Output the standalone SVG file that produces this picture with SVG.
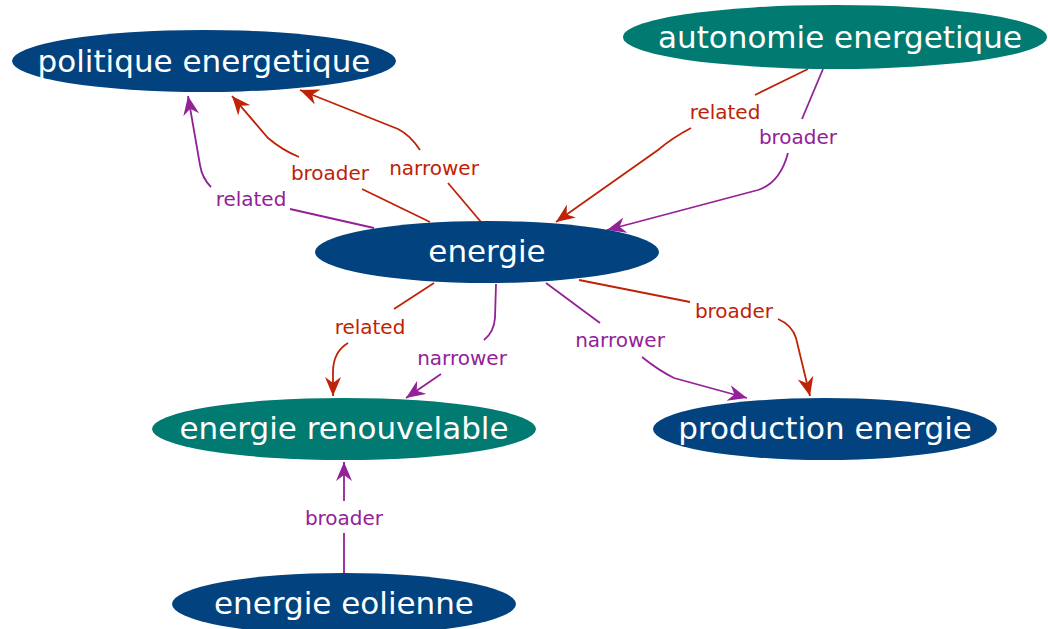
<svg xmlns="http://www.w3.org/2000/svg" width="1048" height="629" viewBox="0 0 1048 629">
<style>
.navy{fill:#02437f}
.teal{fill:#017a72}
.nt{font-family:"DejaVu Sans",sans-serif;font-size:31px;fill:#fff;text-anchor:middle}
.lb{font-family:"DejaVu Sans",sans-serif;font-size:20px;text-anchor:middle}
.r{stroke:#bf2206;fill:none;stroke-width:1.8}
.p{stroke:#932197;fill:none;stroke-width:1.8}
.rt{fill:#bf2206}
.pt{fill:#932197}
</style>
<defs>
<marker id="ar" markerUnits="userSpaceOnUse" markerWidth="22" markerHeight="18" refX="19" refY="8" orient="auto"><path d="M0,0 L19,8 L0,16 L6,8 z" fill="#bf2206"/></marker>
<marker id="ap" markerUnits="userSpaceOnUse" markerWidth="22" markerHeight="18" refX="19" refY="8" orient="auto"><path d="M0,0 L19,8 L0,16 L6,8 z" fill="#932197"/></marker>
</defs>
<g id="connectors">
<path class="p" d="M374,228 L290,209"/>
<path class="p" d="M211,187 Q202,178 200,165 L188,96" marker-end="url(#ap)"/>
<text class="lb pt" x="251" y="206">related</text>
<path class="r" d="M430,222 L362,189"/>
<path class="r" d="M299,157 Q282,150 268,138 L232,96" marker-end="url(#ar)"/>
<text class="lb rt" x="330" y="180">broader</text>
<path class="r" d="M481,222 L448,183"/>
<path class="r" d="M420,150 Q410,135 398,129 L300,90" marker-end="url(#ar)"/>
<text class="lb rt" x="434" y="175">narrower</text>
<path class="r" d="M808,69 L755,95"/>
<path class="r" d="M691,128 Q672,138 658,150 L556,222" marker-end="url(#ar)"/>
<text class="lb rt" x="725" y="119">related</text>
<path class="p" d="M823,69 L802,119"/>
<path class="p" d="M788,153 Q780,183 758,190 L607,230" marker-end="url(#ap)"/>
<text class="lb pt" x="798" y="144">broader</text>
<path class="r" d="M434,283 L394,309"/>
<path class="r" d="M348,343 Q333,352 333,372 L333,396" marker-end="url(#ar)"/>
<text class="lb rt" x="370" y="334">related</text>
<path class="p" d="M496,284 L495,318 Q494,332 484,340"/>
<path class="p" d="M441,374 L406,398" marker-end="url(#ap)"/>
<text class="lb pt" x="462" y="365">narrower</text>
<path class="p" d="M546,283 L600,323"/>
<path class="p" d="M642,357 Q658,370 674,378 L747,398" marker-end="url(#ap)"/>
<text class="lb pt" x="620" y="347">narrower</text>
<path class="r" d="M579,280 L690,302"/>
<path class="r" d="M778,319 Q792,325 796,338 L810,396" marker-end="url(#ar)"/>
<text class="lb rt" x="734" y="318">broader</text>
<path class="p" d="M344,573 L344,533"/>
<path class="p" d="M344,501 L344,462" marker-end="url(#ap)"/>
<text class="lb pt" x="344" y="525">broader</text>
</g>
<g id="politique">
<ellipse class="navy" cx="204" cy="61" rx="192" ry="31"/>
<text class="nt" x="204" y="72">politique energetique</text>
</g>
<g id="autonomie">
<ellipse class="teal" cx="835" cy="37" rx="212" ry="32"/>
<text class="nt" x="840" y="48">autonomie energetique</text>
</g>
<g id="energie">
<ellipse class="navy" cx="487" cy="252" rx="172" ry="31"/>
<text class="nt" x="487" y="262">energie</text>
</g>
<g id="renouvelable">
<ellipse class="teal" cx="344" cy="429" rx="192" ry="31"/>
<text class="nt" x="344" y="439">energie renouvelable</text>
</g>
<g id="production">
<ellipse class="navy" cx="825" cy="429" rx="172" ry="31"/>
<text class="nt" x="825" y="439">production energie</text>
</g>
<g id="eolienne">
<ellipse class="navy" cx="344" cy="604" rx="172" ry="31"/>
<text class="nt" x="344" y="614">energie eolienne</text>
</g>
</svg>
